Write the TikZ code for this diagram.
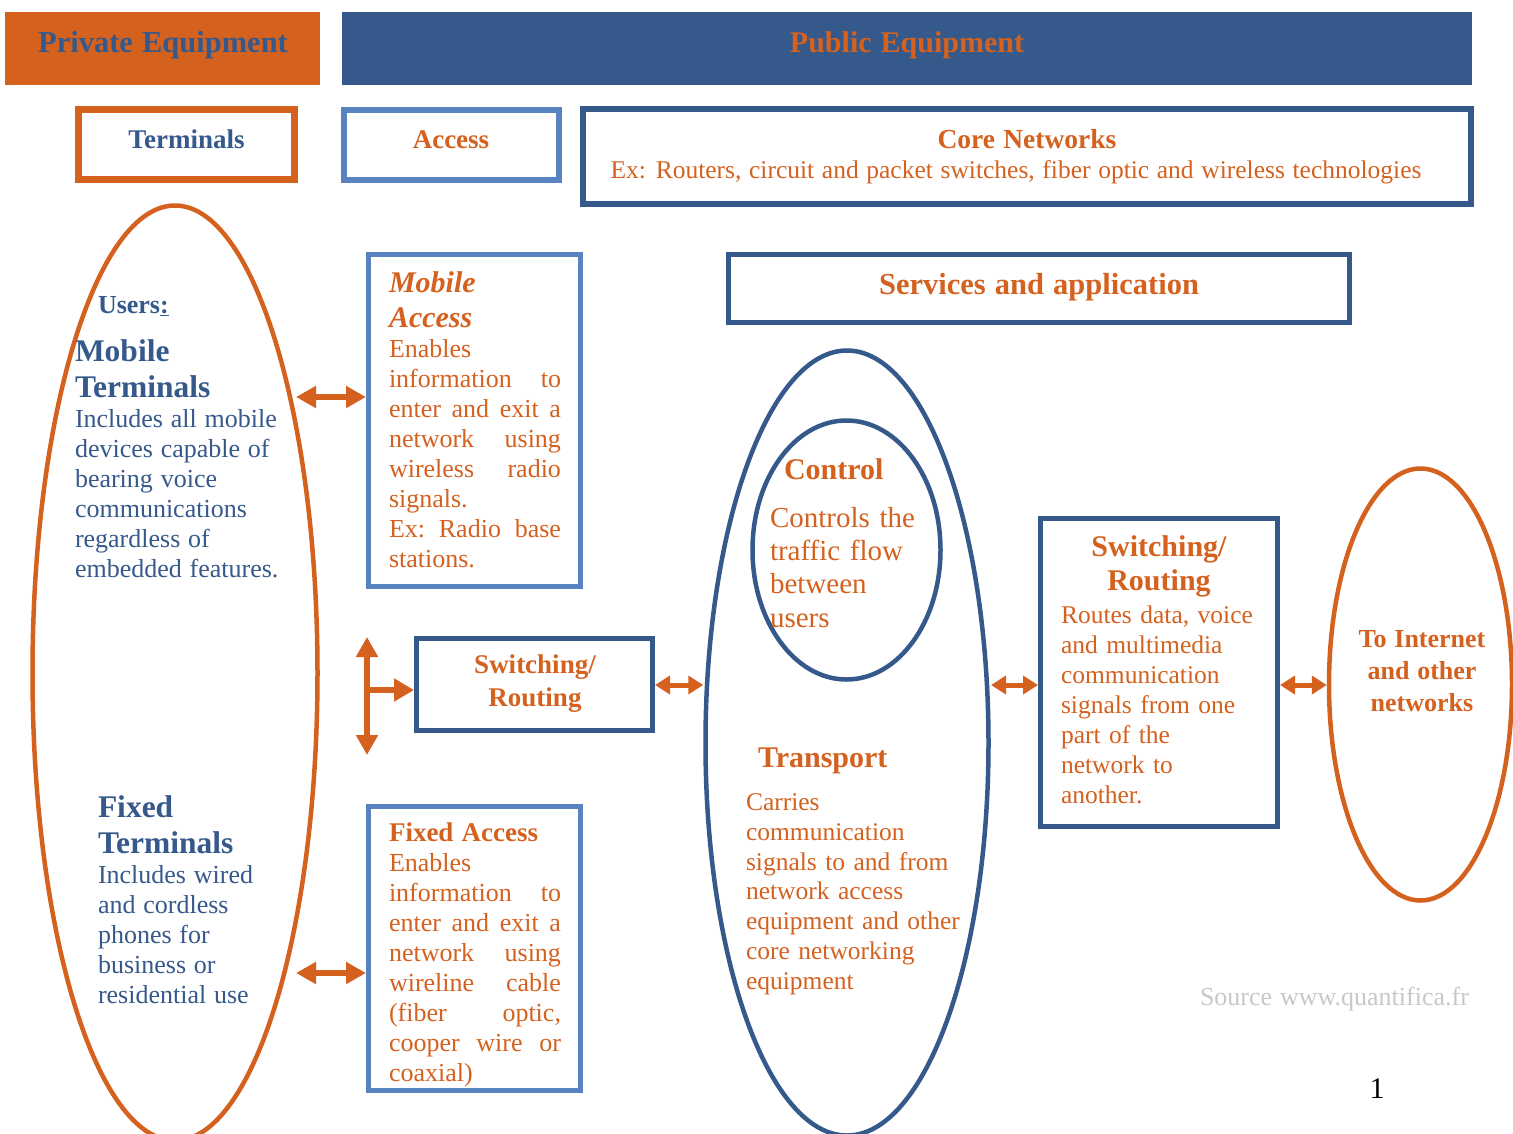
\documentclass[tikz,border=0pt]{standalone}
\usepackage{fontspec}
\setmainfont{Liberation Serif}
\usetikzlibrary{arrows.meta,shapes.geometric}
\definecolor{orng}{RGB}{213,97,31}
\definecolor{dblue}{RGB}{54,89,140}
\definecolor{lblue}{RGB}{89,130,193}
\definecolor{srcgray}{RGB}{200,200,200}
\newcommand\fs[2]{\fontsize{#1}{#2}\selectfont\spaceskip=.3em plus .1em minus .05em\relax}
\newcommand\jl[1]{\leavevmode\hbox to 172pt{#1}}
\begin{document}
\begin{tikzpicture}[x=1pt,y=-1pt,
  banner/.style={draw=none, inner sep=0pt},
  obox/.style={draw=orng, line width=7pt, inner sep=0pt},
  lbox/.style={draw=lblue, line width=6pt, inner sep=0pt},
  lboxt/.style={draw=lblue, line width=5pt, inner sep=0pt},
  dbox/.style={draw=dblue, line width=5pt, inner sep=0pt},
  oell/.style={ellipse, draw=orng, line width=4.5pt, inner sep=0pt},
  dell/.style={ellipse, draw=dblue, line width=4.5pt, inner sep=0pt},
  txt/.style={inner sep=0pt, outer sep=0pt, anchor=north west, align=left},
  ctxt/.style={inner sep=0pt, outer sep=0pt, anchor=north, align=center},
  btxt/.style={inner sep=0pt, outer sep=0pt, anchor=base},
  bwtxt/.style={inner sep=0pt, outer sep=0pt, anchor=base west},
  bigarr/.style={orng, line width=6pt, {Triangle[length=20pt,width=21pt]}-{Triangle[length=20pt,width=21pt]}},
  smarr/.style={orng, line width=5pt, {Triangle[length=15pt,width=18pt]}-{Triangle[length=15pt,width=18pt]}},
  onearr/.style={orng, line width=6pt, -{Triangle[length=20pt,width=22pt]}}
]
\useasboundingbox (0,0) rectangle (1513,1133);
\clip (0,0) rectangle (1513,1133);
\fill[white] (0,0) rectangle (1513,1133);

% ---- banners
\node[banner, fill=orng, minimum width=315pt, minimum height=73pt] (priv) at (162.5,48.5) {};
\node[banner, fill=dblue, minimum width=1130pt, minimum height=73pt] (pub) at (907,48.5) {};
\node[btxt, text=dblue, font=\bfseries\fs{30.5}{34}] (privT) at (163,52) {Private Equipment};
\node[btxt, text=orng, font=\bfseries\fs{30}{34}] (pubT) at (907,52) {Public Equipment};

% ---- category boxes
\node[obox, minimum width=216pt, minimum height=70pt] (term) at (186.5,144.5) {};
\node[lbox, minimum width=215pt, minimum height=70pt] (acc) at (451,144.5) {};
\node[dbox, line width=6pt, minimum width=888pt, minimum height=95pt] (core) at (1027,156.5) {};
\node[btxt, text=dblue, font=\bfseries\fs{27}{30}] (termT) at (186.5,148) {Terminals};
\node[btxt, text=orng, font=\bfseries\fs{27}{30}] (accT) at (451,148) {Access};
\node[btxt, text=orng, font=\bfseries\fs{27.5}{30}] (coreT) at (1027,148) {Core Networks};
\node[btxt, text=orng, font=\fs{25.5}{30}] (coreEx) at (1016,178) {Ex: Routers, circuit and packet switches, fiber optic and wireless technologies};

% ---- left users ellipse
\node[oell, minimum width=285pt, minimum height=935pt] (users) at (175,673) {};
\node[bwtxt, text=dblue, font=\bfseries\fs{26}{30}] (usersT) at (98,313) {Users\underline{:}};
\node[txt, text width=240pt, text=dblue] (mobT) at (75,340)
  {{\bfseries\fs{31.5}{36}Mobile\\Terminals\par}\fs{26}{30}Includes all mobile\\devices capable of\\bearing voice\\communications\\regardless of\\embedded features.\par};
\node[txt, text width=240pt, text=dblue] (fixT) at (98,796)
  {{\bfseries\fs{31.5}{36}Fixed\\Terminals\par}\fs{26}{30}Includes wired\\and cordless\\phones for\\business or\\residential use\par};

% ---- access boxes
\node[lboxt, minimum width=212pt, minimum height=332pt] (mobacc) at (474.5,420.5) {};
\node[txt, text width=172pt, text=orng] (mobaccT) at (389,272)
  {{\bfseries\itshape\fs{30}{35}Mobile\\Access\par}\fs{26}{30}Enables\\
   \jl{information\hfill to}\\
   \jl{enter\hfill and\hfill exit\hfill a}\\
   \jl{network\hfill using}\\
   \jl{wireless\hfill radio}\\
   signals.\\
   \jl{Ex:\hfill Radio\hfill base}\\
   stations.\par};
\node[lboxt, minimum width=212pt, minimum height=284pt] (fixacc) at (474.5,948.5) {};
\node[txt, text width=172pt, text=orng] (fixaccT) at (389,823)
  {{\bfseries\fs{27}{30}Fixed Access\par}\fs{26}{30}Enables\\
   \jl{information\hfill to}\\
   \jl{enter\hfill and\hfill exit\hfill a}\\
   \jl{network\hfill using}\\
   \jl{wireline\hfill cable}\\
   \jl{(fiber\hfill optic,}\\
   \jl{cooper\hfill wire\hfill or}\\
   coaxial)\par};

% ---- left switching box
\node[dbox, minimum width=236pt, minimum height=92pt] (swL) at (534.5,684.5) {};
\node[ctxt, text=orng, font=\bfseries\fs{27}{33}] (swLT) at (535,655) {Switching/\\Routing};

% ---- services box
\node[dbox, minimum width=621pt, minimum height=68pt] (serv) at (1039,288.5) {};
\node[btxt, text=orng, font=\bfseries\fs{30.5}{34}] (servT) at (1039,294) {Services and application};

% ---- transport / control ellipses
\node[dell, minimum width=283pt, minimum height=785pt] (trans) at (847,743) {};
\node[dell, minimum width=188pt, minimum height=259pt] (ctrl) at (846.5,550) {};
\node[bwtxt, text=orng, font=\bfseries\fs{30}{34}] (ctrlT) at (784,479) {Control};
\node[txt, text width=200pt, text=orng, font=\fs{29}{33.3}] (ctrlB) at (770,507)
  {Controls the\\traffic flow\\between\\users};
\node[bwtxt, text=orng, font=\bfseries\fs{30}{34}] (transT) at (758,767) {Transport};
\node[txt, text width=260pt, text=orng, font=\fs{25.5}{29.7}] (transB) at (746,794)
  {Carries\\communication\\signals to and from\\network access\\equipment and other\\core networking\\equipment};

% ---- right switching box
\node[dbox, minimum width=237pt, minimum height=308pt] (swR) at (1159,672.5) {};
\node[ctxt, text=orng, font=\bfseries\fs{30}{34}] (swRT) at (1159,536) {Switching/\\Routing};
\node[txt, text width=220pt, text=orng, font=\fs{25.5}{30}] (swRB) at (1061,606)
  {Routes data, voice\\and multimedia\\communication\\signals from one\\part of the\\network to\\another.};

% ---- right ellipse
\node[oell, minimum width=183pt, minimum height=432pt] (inet) at (1420.5,684.5) {};
\node[ctxt, text=orng, font=\bfseries\fs{26}{32}] (inetT) at (1422,630) {To Internet\\and other\\networks};

% ---- source / page number
\node[bwtxt, text=srcgray, font=\fs{26}{30}] (src) at (1200,1005) {Source www.quantifica.fr};
\node[btxt, text=black, font=\fs{30}{34}] (pg) at (1377,1098) {1};

% ---- connectors
\coordinate (uMob) at (296,397);
\coordinate (uFix) at (296,973);
\draw[bigarr] (uMob) -- (uMob -| mobacc.west);
\draw[bigarr] (uFix) -- (uFix -| fixacc.west);

\coordinate (tTop) at (367,637);
\coordinate (tBot) at (367,755);
\coordinate (tJoin) at (367,690);
\draw[bigarr] (tTop) -- (tBot);
\draw[onearr] (tJoin) -- (tJoin -| swL.west);

\coordinate (y685) at (0,685);
\draw[smarr] (swL.east |- y685) -- (trans.west |- y685);
\draw[smarr] (991,685) -- (swR.west |- y685);
\draw[smarr] (swR.east |- y685) -- (inet.west |- y685);
\end{tikzpicture}
\end{document}
